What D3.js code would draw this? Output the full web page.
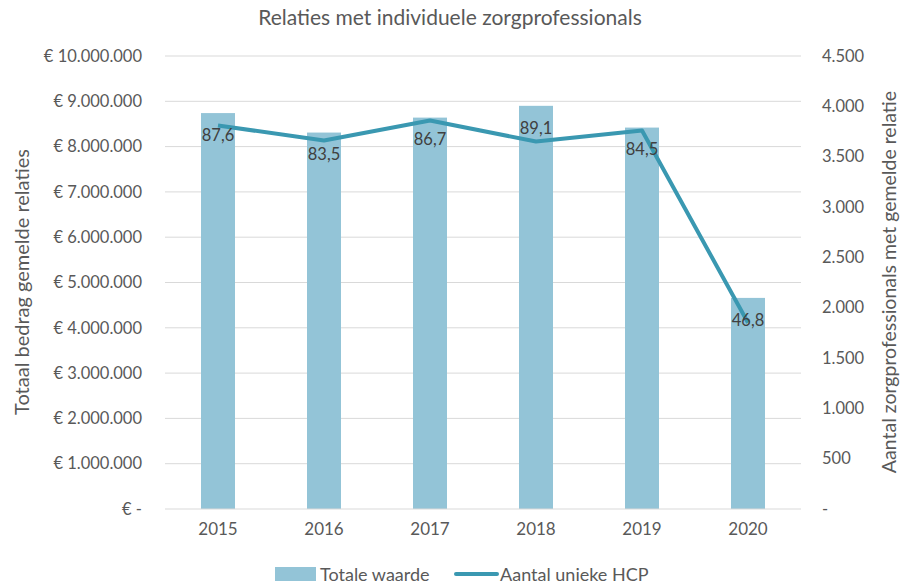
<!DOCTYPE html>
<html>
<head>
<meta charset="utf-8">
<script src="https://cdn.jsdelivr.net/npm/d3@7"></script>
<style>
body{margin:0;background:#fff;}
text{font-family:Lato,"Open Sans",sans-serif;fill:#595959;}
</style>
</head>
<body>
<script>
var width = 914, height = 586;

var years = ["2015","2016","2017","2018","2019","2020"];
var totaleWaarde = [8740000,8310000,8640000,8900000,8420000,4660000];
var uniekeHCP = [3810,3660,3860,3650,3760,1850];
var barLabels = ["87,6","83,5","86,7","89,1","84,5","46,8"];
var leftTicks = [0,1000000,2000000,3000000,4000000,5000000,6000000,7000000,8000000,9000000,10000000];
var rightTicks = [0,500,1000,1500,2000,2500,3000,3500,4000,4500];

var padding = {top:56,right:113,bottom:77,left:165};

var svg = d3.select("body").append("svg")
.attr("width",width)
.attr("height",height);

var xScale = d3.scaleBand()
.domain(years)
.range([padding.left,width - padding.right]);

var yLeft = d3.scaleLinear()
.domain([0,10000000])
.range([height - padding.bottom,padding.top]);

var yRight = d3.scaleLinear()
.domain([0,4500])
.range([height - padding.bottom,padding.top]);

var fmtDots = function(v){
	return d3.format(",")(v).replace(/,/g,".");
};

// gridlines
svg.append("g").selectAll("line")
.data(leftTicks.slice(1))
.enter().append("line")
.attr("x1",padding.left).attr("x2",width - padding.right)
.attr("y1",function(d){return yLeft(d);})
.attr("y2",function(d){return yLeft(d);})
.attr("stroke","#d9d9d9").attr("stroke-width",1);

// bars
var barW = 34;
svg.append("g").selectAll("rect")
.data(totaleWaarde)
.enter().append("rect")
.attr("x",function(d,i){return xScale(years[i]) + xScale.bandwidth()/2 - barW/2;})
.attr("y",function(d){return yLeft(d);})
.attr("width",barW)
.attr("height",function(d){return yLeft(0) - yLeft(d);})
.attr("fill","#93c4d7");

// baseline
svg.append("line")
.attr("x1",padding.left).attr("x2",width - padding.right)
.attr("y1",yLeft(0)).attr("y2",yLeft(0))
.attr("stroke","#d9d9d9").attr("stroke-width",1);

// line
var linePath = d3.line()
.x(function(d,i){return xScale(years[i]) + xScale.bandwidth()/2;})
.y(function(d){return yRight(d);});

svg.append("path")
.attr("d",linePath(uniekeHCP))
.attr("fill","none")
.attr("stroke","#3a98b1")
.attr("stroke-width",4)
.attr("stroke-linejoin","round");

// bar labels (inside end)
svg.append("g").selectAll("text")
.data(barLabels)
.enter().append("text")
.attr("x",function(d,i){return xScale(years[i]) + xScale.bandwidth()/2;})
.attr("y",function(d,i){return yLeft(totaleWaarde[i]) + 22;})
.attr("dy","0.35em")
.attr("text-anchor","middle")
.style("font-size","16.5px")
.style("fill","#404040")
.text(function(d){return d;});

// left axis labels
svg.append("g").selectAll("text")
.data(leftTicks)
.enter().append("text")
.attr("x",142)
.attr("y",function(d){return yLeft(d);})
.attr("dy","0.35em")
.attr("text-anchor","end")
.style("font-size","16.5px")
.text(function(d){return d === 0 ? "€ -  " : "€ " + fmtDots(d);});

// right axis labels
svg.append("g").selectAll("text")
.data(rightTicks)
.enter().append("text")
.attr("x",822)
.attr("y",function(d){return yRight(d);})
.attr("dy","0.35em")
.attr("text-anchor","start")
.style("font-size","16.5px")
.text(function(d){return d === 0 ? "-" : fmtDots(d);});

// x axis labels
svg.append("g").selectAll("text")
.data(years)
.enter().append("text")
.attr("x",function(d){return xScale(d) + xScale.bandwidth()/2;})
.attr("y",535)
.attr("text-anchor","middle")
.style("font-size","17px")
.text(function(d){return d;});

// title
svg.append("text")
.attr("x",450).attr("y",25)
.attr("text-anchor","middle")
.style("font-size","21px")
.text("Relaties met individuele zorgprofessionals");

// axis titles
svg.append("text")
.attr("transform","translate(29,282) rotate(-90)")
.attr("text-anchor","middle")
.style("font-size","20px")
.text("Totaal bedrag gemelde relaties");

svg.append("text")
.attr("transform","translate(896,282) rotate(-90)")
.attr("text-anchor","middle")
.style("font-size","19.5px")
.text("Aantal zorgprofessionals met gemelde relatie");

// legend
var legend = svg.append("g");
legend.append("rect")
.attr("x",275).attr("y",567).attr("width",41).attr("height",14)
.attr("fill","#93c4d7");
legend.append("text")
.attr("x",320).attr("y",575).attr("dy","0.35em")
.style("font-size","18px")
.text("Totale waarde");
legend.append("line")
.attr("x1",456).attr("x2",497).attr("y1",574).attr("y2",574)
.attr("stroke","#3a98b1").attr("stroke-width",4).attr("stroke-linecap","round");
legend.append("text")
.attr("x",500).attr("y",575).attr("dy","0.35em")
.style("font-size","18px")
.text("Aantal unieke HCP");
</script>
</body>
</html>
